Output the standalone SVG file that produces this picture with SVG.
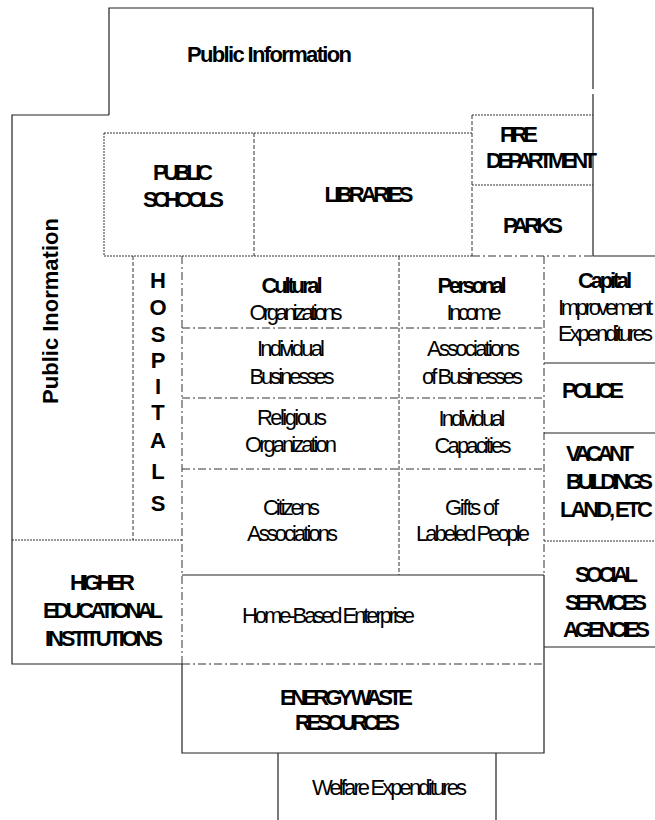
<svg xmlns="http://www.w3.org/2000/svg" width="655" height="820" viewBox="0 0 655 820">
<style>
text{font-family:"Liberation Sans",Arial,sans-serif;font-size:22px;fill:#000}
.b{font-weight:bold}
.m{text-anchor:middle}
.solid{stroke:#222;stroke-width:1.2;fill:none}
.dot{stroke:#333;stroke-width:1;fill:none;stroke-dasharray:2 1}
.dash{stroke:#333;stroke-width:1;fill:none;stroke-dasharray:4 2}
.dd{stroke:#333;stroke-width:1;fill:none;stroke-dasharray:8 3 2 3}
</style>
<rect width="655" height="820" fill="#fff"/>
<g id="connectors">
  <path class="solid" d="M109,115 V8 H593 V89"/>
  <path class="solid" d="M593,94 V256 H655"/>
  <path class="solid" d="M109,115 H12 V664 H182"/>
  <path class="dot" d="M104,133 H472 M104,133 V256 M104,256 H472"/>
  <path class="dash" d="M254,133 V256"/>
  <path class="dot" d="M472,115 H593 M472,185 H593"/>
  <path class="dash" d="M472,115 V256"/>
  <path class="dd" d="M472,256 H593"/>
  <path class="dash" d="M133,256 V540"/>
  <path class="dd" d="M182,256 V664"/>
  <path class="solid" d="M182,664 V753 H544 V575"/>
  <path class="dd" d="M544,256 V575"/>
  <path class="dash" d="M399,256 V575"/>
  <path class="dd" d="M182,328 H544 M182,398 H544 M182,469 H544 M182,664 H544"/>
  <path class="solid" d="M182,575 H544"/>
  <path class="dot" d="M12,540 H182"/>
  <path class="solid" d="M544,363 H655 M544,433 H655 M544,647 H655"/>
  <path class="dot" d="M544,541 H655"/>
  <path class="solid" d="M278,753 V820 M496,753 V820"/>
</g>
<g id="public-information-top"><text class="b m" x="269.5" y="62" font-size="26" textLength="165" lengthAdjust="spacing">Public Information</text></g>
<g id="public-information-left"><text class="b m" transform="translate(58,311) rotate(-90)" font-size="26">Public Inormation</text></g>
<g id="public-schools">
  <text class="b m" x="183" y="180" textLength="60" lengthAdjust="spacing">PUBLIC</text>
  <text class="b m" x="183.5" y="207" textLength="81" lengthAdjust="spacing">SCHOOLS</text>
</g>
<g id="libraries"><text class="b m" x="369" y="202" textLength="89" lengthAdjust="spacing">LIBRARIES</text></g>
<g id="fire-department">
  <text class="b" x="500" y="142" font-size="21" textLength="38" lengthAdjust="spacing">FIRE</text>
  <text class="b" x="486" y="168" font-size="21" textLength="111" lengthAdjust="spacing">DEPARTMENT</text>
</g>
<g id="parks"><text class="b" x="503" y="233" font-size="21" textLength="60" lengthAdjust="spacing">PARKS</text></g>
<g id="hospitals">
  <text class="b m" x="158" y="288" font-size="21">H</text>
  <text class="b m" x="158" y="315" font-size="21">O</text>
  <text class="b m" x="158" y="342" font-size="21">S</text>
  <text class="b m" x="158" y="368" font-size="21">P</text>
  <text class="b m" x="158" y="394" font-size="21">I</text>
  <text class="b m" x="158" y="420" font-size="21">T</text>
  <text class="b m" x="158" y="448" font-size="21">A</text>
  <text class="b m" x="158" y="479" font-size="21">L</text>
  <text class="b m" x="158" y="511" font-size="21">S</text>
</g>
<g id="cultural-organizations">
  <text class="b m" x="292" y="293" textLength="61" lengthAdjust="spacing">Cultural</text>
  <text class="m" x="296" y="320" textLength="93" lengthAdjust="spacing">Organizations</text>
</g>
<g id="personal-income">
  <text class="b m" x="472" y="293" textLength="69" lengthAdjust="spacing">Personal</text>
  <text class="m" x="474" y="320" textLength="55" lengthAdjust="spacing">Income</text>
</g>
<g id="individual-businesses">
  <text class="m" x="291" y="356" textLength="68" lengthAdjust="spacing">Individual</text>
  <text class="m" x="292" y="384" textLength="85" lengthAdjust="spacing">Businesses</text>
</g>
<g id="associations-of-businesses">
  <text class="m" x="473.5" y="356" textLength="93" lengthAdjust="spacing">Associations</text>
  <text class="m" x="472.5" y="384" textLength="101" lengthAdjust="spacing">of Businesses</text>
</g>
<g id="religious-organization">
  <text class="m" x="292" y="425" textLength="70" lengthAdjust="spacing">Religious</text>
  <text class="m" x="291" y="452" textLength="92" lengthAdjust="spacing">Organization</text>
</g>
<g id="individual-capacities">
  <text class="m" x="472" y="426" textLength="67" lengthAdjust="spacing">Individual</text>
  <text class="m" x="473" y="453" textLength="77" lengthAdjust="spacing">Capacities</text>
</g>
<g id="citizens-associations">
  <text class="m" x="291.5" y="515" textLength="57" lengthAdjust="spacing">Citizens</text>
  <text class="m" x="292.5" y="541" textLength="91" lengthAdjust="spacing">Associations</text>
</g>
<g id="gifts-of-labeled-people">
  <text class="m" x="472" y="515" textLength="54" lengthAdjust="spacing">Gifts of</text>
  <text class="m" x="473" y="541" textLength="114" lengthAdjust="spacing">Labeled People</text>
</g>
<g id="capital">
  <text class="b m" x="605" y="288" textLength="54" lengthAdjust="spacing">Capital</text>
  <text class="m" x="605.5" y="315" textLength="95" lengthAdjust="spacing">Improvement</text>
  <text class="m" x="605.5" y="341" textLength="95" lengthAdjust="spacing">Expenditures</text>
</g>
<g id="police"><text class="b" x="562" y="398" textLength="62" lengthAdjust="spacing">POLICE</text></g>
<g id="vacant-buildings">
  <text class="b" x="566" y="461" textLength="68" lengthAdjust="spacing">VACANT</text>
  <text class="b" x="566" y="489" textLength="87" lengthAdjust="spacing">BUILDINGS</text>
  <text class="b" x="560" y="517" textLength="93" lengthAdjust="spacing">LAND, ETC</text>
</g>
<g id="social-services">
  <text class="b m" x="606.5" y="582" textLength="63" lengthAdjust="spacing">SOCIAL</text>
  <text class="b m" x="606" y="610" textLength="82" lengthAdjust="spacing">SERVICES</text>
  <text class="b m" x="606.5" y="637" textLength="87" lengthAdjust="spacing">AGENCIES</text>
</g>
<g id="higher-educational">
  <text class="b m" x="102.5" y="590" textLength="65" lengthAdjust="spacing">HIGHER</text>
  <text class="b m" x="103" y="618" textLength="120" lengthAdjust="spacing">EDUCATIONAL</text>
  <text class="b m" x="104" y="646" textLength="118" lengthAdjust="spacing">INSTITUTIONS</text>
</g>
<g id="home-based-enterprise"><text class="m" x="328.5" y="623" textLength="173" lengthAdjust="spacing">Home-Based Enterprise</text></g>
<g id="energy-waste">
  <text class="b m" x="346.5" y="705" textLength="133" lengthAdjust="spacing">ENERGY WASTE</text>
  <text class="b m" x="347.5" y="730" textLength="105" lengthAdjust="spacing">RESOURCES</text>
</g>
<g id="welfare"><text class="m" x="389.5" y="795" textLength="155" lengthAdjust="spacing">Welfare Expenditures</text></g>
</svg>
